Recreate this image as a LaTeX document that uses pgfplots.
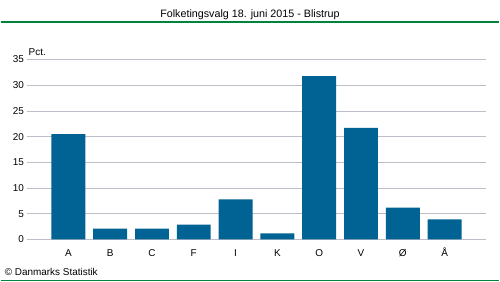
\documentclass[border=0pt]{standalone}
\usepackage{pgfplots}
\pgfplotsset{compat=1.18}
\usepackage{fontspec}
\setmainfont{Liberation Sans}
\definecolor{barblue}{RGB}{0,99,148}
\definecolor{dstgreen}{RGB}{0,132,61}
\definecolor{gridgray}{RGB}{190,190,200}
\begin{document}
\begin{tikzpicture}[x=1bp,y=1bp]
\path (0,0) rectangle (500,282);
\draw[dstgreen, line width=1.2bp] (0,260) -- (500,260);
\draw[dstgreen, line width=1.2bp] (0,0.6) -- (500,0.6);
\node[anchor=base, font=\fontsize{10.8}{12}\selectfont, inner sep=0pt] at (250,264) {Folketingsvalg 18. juni 2015 - Blistrup};
\node[anchor=base west, font=\fontsize{10}{12}\selectfont, inner sep=0pt] at (4,6) {© Danmarks Statistik};
\begin{axis}[
  at={(26bp,42bp)}, anchor=south west,
  scale only axis, width=461bp, height=180.3bp,
  xmin=-1, xmax=10, ymin=0, ymax=35,
  ytick={0,5,...,35},
  xtick={0,...,9},
  xticklabels={A,B,C,F,I,K,O,V,Ø,Å},
  axis line style={draw=none},
  tick style={draw=none},
  ymajorgrids, grid style={gridgray, line width=0.8bp},
  tick label style={font=\fontsize{10}{12}\selectfont},
  /pgf/number format/assume math mode=true,
  yticklabel style={inner sep=0pt, xshift=-2.5bp},
  xticklabel style={inner sep=0pt, anchor=base, yshift=-17bp},
  clip=false,
]
\addplot[ybar, bar width=34bp, fill=barblue, draw=none] coordinates {
(0,20.5) (1,2.1) (2,2.1) (3,2.9) (4,7.8) (5,1.2) (6,31.8) (7,21.7) (8,6.2) (9,3.9)};
\node[anchor=base west, font=\fontsize{10}{12}\selectfont, inner sep=0pt] at (rel axis cs:0,1) [yshift=4bp, xshift=2bp] {Pct.};
\end{axis}
\end{tikzpicture}
\end{document}
